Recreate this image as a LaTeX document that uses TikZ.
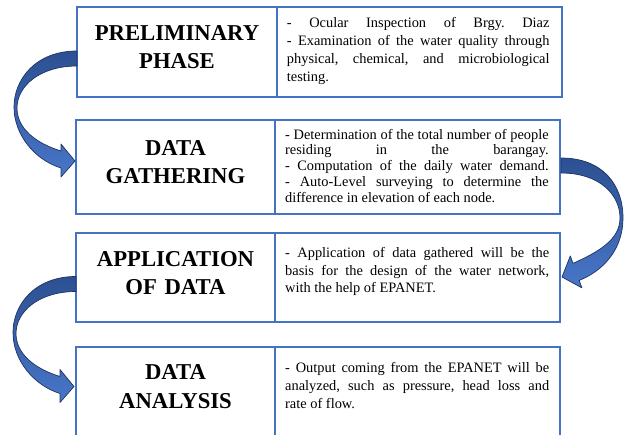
\documentclass[tikz,border=0pt]{standalone}
\usepackage{fontspec}
\setmainfont{Liberation Serif}
\frenchspacing
\hyphenpenalty=10000
\exhyphenpenalty=10000
\tolerance=10000
\hbadness=10000
\definecolor{boxblue}{RGB}{68,114,196}
\definecolor{arrowdark}{RGB}{44,80,146}
\definecolor{arrowlight}{RGB}{72,118,200}
\definecolor{arrowedge}{RGB}{30,52,96}
\tikzset{
  cell/.style={draw=boxblue, line width=1.5pt, inner sep=0pt, outer sep=0pt, rectangle},
  heading/.style={text width=200pt, align=center, anchor=base, inner sep=0pt,
    font=\bfseries\fontsize{22.7}{28}\selectfont},
  desc/.style={text width=264pt, align=justify, anchor=base west, inner sep=0pt,
    font=\fontsize{14.4}{18}\selectfont},
  flowarrow/.style={draw=arrowedge, line width=0.7pt, line join=round,
    top color=arrowdark, bottom color=arrowlight}
}
\begin{document}
\begin{tikzpicture}[x=1pt, y=-1pt]
\useasboundingbox (0,0) rectangle (624,434);
\clip (0,0) rectangle (624,434);

% phase boxes: title cell on the left, description cell on the right
\node[cell, minimum width=200pt, minimum height=90pt] (p1l) at (177,52) {};
\node[cell, minimum width=285pt, minimum height=90pt] (p1r) at (419.5,52) {};
\node[cell, minimum width=199pt, minimum height=94pt] (p2l) at (175.5,167) {};
\node[cell, minimum width=285pt, minimum height=94pt] (p2r) at (417.5,167) {};
\node[cell, minimum width=199pt, minimum height=89pt] (p3l) at (175.5,277.5) {};
\node[cell, minimum width=285pt, minimum height=89pt] (p3r) at (417.5,277.5) {};
\node[cell, minimum width=199pt, minimum height=103pt] (p4l) at (175.5,398.5) {};
\node[cell, minimum width=285pt, minimum height=103pt] (p4r) at (417.5,398.5) {};

% titles
\node[heading] (t1) at (177,40) {PRELIMINARY\\PHASE};
\node[heading] (t2) at (175.5,155) {DATA\\GATHERING};
\node[heading] (t3) at (175.5,266) {APPLICATION\\OF DATA};
\node[heading, font=\bfseries\fontsize{22.7}{29.4}\selectfont] (t4) at (175.5,379.3) {DATA\\ANALYSIS};

% descriptions
\node[desc, text width=262.6pt, font=\fontsize{14.4}{18.1}\selectfont] (d1) at (286.7,27.3)
  {- Ocular Inspection of Brgy. Diaz\linebreak
   - Examination of the water quality through\linebreak
   physical, chemical, and microbiological\linebreak
   testing.};
\node[desc, text width=263.5pt, font=\fontsize{14.4}{15.9}\selectfont] (d2) at (285,139)
  {- Determination of the total number of people\linebreak
   residing in the barangay.\linebreak
   - Computation of the daily water demand.\linebreak
   - Auto-Level surveying to determine the\linebreak
   difference in elevation of each node.};
\node[desc, font=\fontsize{14.4}{17.7}\selectfont] (d3) at (285,257.3)
  {- Application of data gathered will be the\linebreak
   basis for the design of the water network,\linebreak
   with the help of EPANET.};
\node[desc, font=\fontsize{14.4}{17.8}\selectfont] (d4) at (285,372.7)
  {- Output coming from the EPANET will be\linebreak
   analyzed, such as pressure, head loss and\linebreak
   rate of flow.};

% curved block arrows between the phases
\begin{scope}[shift={(p1l.west)}]
  \path[flowarrow] (0,-1) .. controls (-42,-1) and (-63,28) .. (-63,55)
    .. controls (-63,83) and (-42,108) .. (-16,116) -- (-16,125) -- (-2,109)
    -- (-16,92) -- (-16,99) .. controls (-42,91) and (-60,76) .. (-60,56)
    .. controls (-60,34) and (-37,14) .. (0,14) -- cycle;
\end{scope}
\begin{scope}[shift={(p2r.east)}]
  \path[flowarrow] (1,-9) .. controls (43,-9) and (63,18) .. (63,51)
    .. controls (63,81) and (45,103) .. (19.2,113.4) -- (21.9,120.9) -- (2,110)
    -- (10.3,88.9) -- (13,96.4) .. controls (38,85) and (60,73) .. (60,51)
    .. controls (60,28) and (40,6) .. (1,6) -- cycle;
\end{scope}
\begin{scope}[shift={(p3l.west)}]
  \path[flowarrow] (0,-1) .. controls (-42,-1) and (-63,28) .. (-63,55)
    .. controls (-63,83) and (-42,108) .. (-16,116) -- (-16,125) -- (-2,109)
    -- (-16,92) -- (-16,99) .. controls (-42,91) and (-60,76) .. (-60,56)
    .. controls (-60,34) and (-37,14) .. (0,14) -- cycle;
\end{scope}
\end{tikzpicture}
\end{document}
